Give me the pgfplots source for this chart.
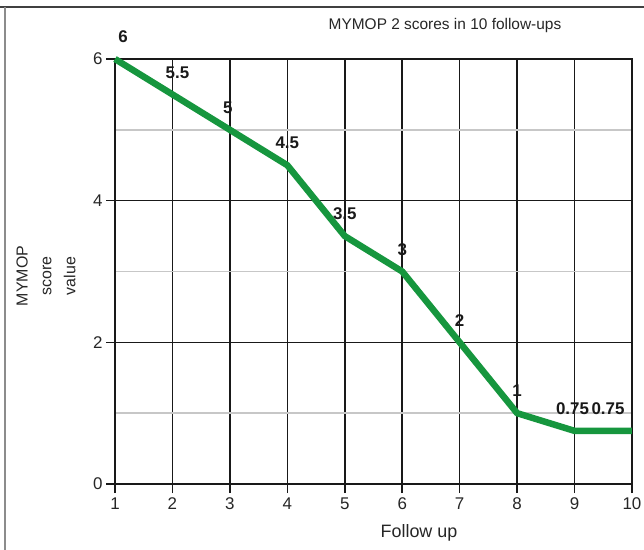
\documentclass[border=0pt]{standalone}
\usepackage{pgfplots}
\pgfplotsset{compat=1.18}
\usepackage{pgfplotstable}
\usepackage{fontspec}
\setmainfont{Liberation Sans}
\definecolor{lgreen}{RGB}{22,150,62}
\pgfplotstableread{
x y dx lab
1 6 8 6
2 5.5 5 5.5
3 5 -2 5
4 4.5 0 4.5
5 3.5 0 3.5
6 3 0 3
7 2 0 2
8 1 0 1
9 0.75 -2 0.75
10 0.75 -24 0.75
}\datatab
\begin{document}
\begin{tikzpicture}
\useasboundingbox (0,0) rectangle (644bp,-550bp);
\draw[black!75, line width=1.5bp] (0,-7bp) -- (644bp,-7bp);
\draw[black!45, line width=2bp] (5bp,-7bp) -- (5bp,-550bp);
\begin{axis}[
  scale only axis,
  width=517bp, height=425bp,
  at={(115bp,-484bp)}, anchor=south west,
  xmin=1, xmax=10, ymin=0, ymax=6,
  xtick={1,...,10}, ytick={0,2,4,6}, minor ytick={1,3,5},
  grid=both,
  major grid style={black!90, line width=1.5bp},
  minor grid style={black!22, line width=1.5bp},
  axis line style={black!90, line width=1.5bp},
  tick align=outside, xtick pos=left, ytick pos=left,
  major tick length=9bp, minor tick length=0pt,
  tick style={black!90, line width=1.5bp},
  /pgf/number format/assume math mode=true,
  tick label style={font=\fontsize{17}{17}\selectfont, black!85},
  xticklabel style={yshift=-1bp},
  clip=false,
]
\addplot[lgreen, line width=6.5bp, line join=round,
  nodes near coords, point meta=explicit symbolic,
  visualization depends on={\thisrow{dx}\as\dx},
  nodes near coords style={font=\bfseries\fontsize{17}{17}\selectfont, black!90, anchor=south, inner sep=0pt, yshift=13bp, xshift=\dx bp}]
  table[x=x, y=y, meta=lab] {\datatab};
\end{axis}
\node[font=\fontsize{15.5}{15.5}\selectfont, black!85] at (445bp,-26bp) {MYMOP 2 scores in 10 follow-ups};
\node[font=\fontsize{18}{18}\selectfont, black!85] at (419bp,-533bp) {Follow up};
\node[font=\fontsize{16}{24}\selectfont, black!85, rotate=90, align=center] at (46bp,-276bp) {MYMOP\\score\\value};
\end{tikzpicture}
\end{document}
